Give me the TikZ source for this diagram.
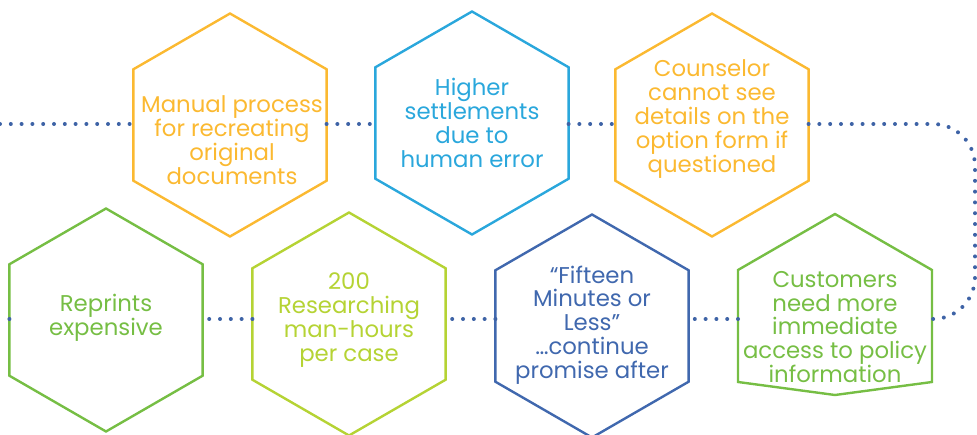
\documentclass[tikz,border=0pt]{standalone}
\usepackage{fontspec}
\setmainfont{Poppins}
\usetikzlibrary{shapes.geometric,calc}
\definecolor{cOrange}{RGB}{251,185,49}
\definecolor{cBlue}{RGB}{42,167,220}
\definecolor{cGreen}{RGB}{118,190,68}
\definecolor{cLime}{RGB}{181,211,52}
\definecolor{cNavy}{RGB}{64,104,174}
\definecolor{cDot}{RGB}{62,99,166}
\begin{document}
\begin{tikzpicture}[x=1pt,y=1pt,
  hexbox/.style={regular polygon, regular polygon sides=6, shape border rotate=30,
    minimum size=223pt, inner sep=0pt, outer sep=0pt, draw=#1, line width=2.4pt},
  hextext/.style={align=center, font=\fontsize{22.8}{23.8}\selectfont, text=#1, inner sep=0pt},
  dots/.style={draw=cDot, line width=4pt, dash pattern=on 0pt off 10.8pt, line cap=round}]
\useasboundingbox (0,0) rectangle (977,434);
\coordinate (rowA) at (0,310);
\coordinate (rowB) at (0,115);
\coordinate (turn) at (975,0);
% top row
\node[hexbox=cOrange] (h1) at (230,309) {};
\node[hexbox=cBlue] (h2) at (472,311) {};
\node[hexbox=cOrange] (h3) at (712,309) {};
% bottom row
\node[hexbox=cGreen] (h4) at (106,114) {};
\node[hexbox=cLime] (h5) at (349,110) {};
\node[hexbox=cNavy] (h6) at (592,108) {};
\node[minimum width=194pt, minimum height=181pt, inner sep=0pt, outer sep=0pt] (h7) at (835,129.5) {};
\draw[cGreen, line width=2.4pt, line join=miter]
  (h7.north) -- (932,164) -- (932,52) -- (h7.south) -- (738,52) -- (738,164) -- cycle;
% texts
\node[hextext=cOrange] (t1) at (232,294) {Manual process\\for recreating\\original\\documents};
\node[hextext=cBlue] (t2) at (472,311) {Higher\\settlements\\due to\\human error};
\node[hextext=cOrange] (t3) at (712,315) {Counselor\\cannot see\\details on the\\option form if\\questioned};
\node[hextext=cGreen] (t4) at (106,116) {Reprints\\expensive};
\node[hextext=cLime] (t5) at (349,114) {200\\Researching\\man-hours\\per case};
\node[hextext=cNavy] (t6) at (592,109) {“Fifteen\\Minutes or\\Less”\\…continue\\promise after};
\node[hextext=cGreen] (t7) at (835,107) {Customers\\need more\\immediate\\access to policy\\information};
% connectors
\draw[dots] (rowA) -- (h1.west |- rowA);
\draw[dots] (h1.east |- rowA) -- (h2.west |- rowA);
\draw[dots] (h2.east |- rowA) -- (h3.west |- rowA);
\draw[dots, rounded corners=42pt] (h3.east |- rowA) -- (turn |- rowA) -- (turn |- rowB) -- (h7.east |- rowB);
\draw[dots] (h7.west |- rowB) -- (h6.east |- rowB);
\draw[dots] (h6.west |- rowB) -- (h5.east |- rowB);
\draw[dots] (h5.west |- rowB) -- (h4.east |- rowB);
\draw[dots] (h4.west |- rowB) -- (rowB);
\end{tikzpicture}
\end{document}
